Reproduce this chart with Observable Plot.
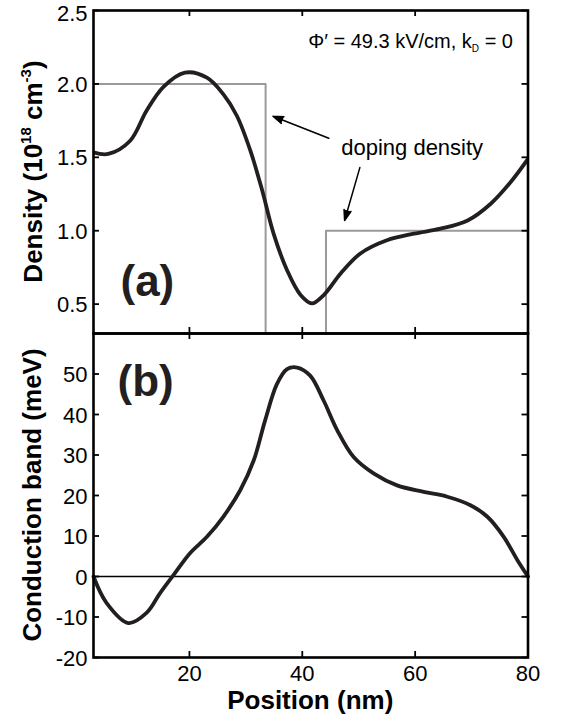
<!DOCTYPE html>
<html><head><meta charset="utf-8">
<script src="https://cdn.jsdelivr.net/npm/d3@7"></script>
<script src="https://cdn.jsdelivr.net/npm/@observablehq/plot@0.6"></script>
<style>
body{margin:0;background:#fff;}
#chart{position:relative;width:563px;height:717px;font-family:"Liberation Sans",Arial,Helvetica,sans-serif;}
#chart svg{position:absolute;left:0;overflow:visible;background:transparent;}
</style></head><body><div id="chart"></div>
<script>
// ---- data ----
const positionTicks = [20, 40, 60, 80];
const densityTicks = [0.5, 1.0, 1.5, 2.0, 2.5];
const bandTicks = [-20, -10, 0, 10, 20, 30, 40, 50];

const densityPos = [3.0, 5.6, 9.5, 12.4, 15.4, 19.2, 23.1, 26.0, 28.4, 30.8, 32.9, 34.9, 37.3, 39.7, 41.7, 43.8, 46.8, 50.3, 55.0, 59.8, 64.5, 69.3, 73.4, 76.9, 80.0];
const densityVal = [1.534, 1.523, 1.613, 1.817, 1.98, 2.077, 2.043, 1.93, 1.783, 1.545, 1.274, 0.982, 0.731, 0.562, 0.505, 0.562, 0.709, 0.845, 0.935, 0.98, 1.014, 1.07, 1.184, 1.33, 1.489];

const dopingPos = [3, 33.5, 33.5, 44.2, 44.2, 80];
const dopingVal = [2, 2, 0, 0, 1, 1];

const bandPos = [3.0, 5.3, 9.2, 12.4, 14.8, 17.2, 20.1, 23.1, 26.0, 29.0, 31.4, 33.4, 35.5, 37.3, 39.1, 41.4, 43.8, 46.2, 49.1, 52.7, 56.8, 61.5, 65.7, 69.8, 72.8, 75.7, 78.1, 80.0];
const bandVal = [0, -6.5, -11.5, -9.0, -4.1, 0.4, 5.75, 9.8, 14.75, 21.3, 28.7, 38.5, 47.5, 51.2, 51.6, 49.6, 43.4, 36.1, 29.5, 25.4, 22.5, 20.9, 19.7, 17.6, 14.75, 9.8, 4.1, 0];

const arrowX1 = [44.7, 50.2];
const arrowY1 = [1.63, 1.43];
const arrowX2 = [34.8, 47.5];
const arrowY2 = [1.78, 1.07];

const dopingLabel = ["doping density"];
const dopingLabelPos = [46.9];
const dopingLabelVal = [1.566];

// ---- tables ----
const density = densityPos.map((x, i) => ({x, y: densityVal[i]}));
const doping = dopingPos.map((x, i) => ({x, y: dopingVal[i]}));
const band = bandPos.map((x, i) => ({x, y: bandVal[i]}));
const arrows = arrowX1.map((x1, i) => ({x1, y1: arrowY1[i], x2: arrowX2[i], y2: arrowY2[i]}));
const dlabel = dopingLabel.map((t, i) => ({t, x: dopingLabelPos[i], y: dopingLabelVal[i]}));

const W = 563, ML = 93, MR = 35.5, FW = W - ML - MR;
const FONT = '"Liberation Sans", Arial, Helvetica, sans-serif';
const TL = 6; // inner tick length
const ink = "#231f20";

// ---- top panel ----
const H1 = 333, MT1 = 10, FH1 = H1 - MT1;
const topPlot = Plot.plot({
  width: W, height: H1, marginLeft: ML, marginRight: MR, marginTop: MT1, marginBottom: 0,
  style: {fontFamily: FONT, fontSize: "22px", color: "black", background: "transparent", overflow: "visible"},
  x: {domain: [3, 80], axis: null},
  y: {domain: [0.3, 2.5]},
  marks: [
    Plot.line(doping, {x: "x", y: "y", stroke: "#9a9a9a", strokeWidth: 2, clip: true}),
    Plot.line(density, {x: "x", y: "y", stroke: ink, strokeWidth: 3.8, curve: "catmull-rom", clip: true}),
    Plot.arrow(arrows, {x1: "x1", y1: "y1", x2: "x2", y2: "y2", stroke: "black", fill: "black", strokeWidth: 1.5, headLength: 11, headAngle: 38}),
    Plot.text(dlabel, {x: "x", y: "y", text: "t", textAnchor: "start", lineAnchor: "middle", fontSize: 22, fill: "black"}),
    Plot.text(["(a)"], {frameAnchor: "bottom-left", text: d => d, textAnchor: "start", lineAnchor: "middle", dx: 27, dy: -52, fontSize: 44, fontWeight: "bold", fill: ink}),
    Plot.tickY(densityTicks, {y: d => d, insetRight: FW - TL, stroke: "black", strokeWidth: 1.8}),
    Plot.tickY(densityTicks, {y: d => d, insetLeft: FW - TL, stroke: "black", strokeWidth: 1.8}),
    Plot.tickX(positionTicks, {x: d => d, insetTop: FH1 - TL, stroke: "black", strokeWidth: 1.8}),
    Plot.tickX(positionTicks, {x: d => d, insetBottom: FH1 - TL, stroke: "black", strokeWidth: 1.8}),
    Plot.axisY({ticks: densityTicks.slice(0, -1), tickSize: 0, tickPadding: 6, tickFormat: d3.format(".1f"), fontSize: 22, dy: 1, label: null}),
    Plot.axisY({ticks: densityTicks.slice(-1), tickSize: 0, tickPadding: 6, tickFormat: d3.format(".1f"), fontSize: 22, dy: 3, label: null}),
    Plot.frame({stroke: "black", strokeWidth: 2.6})
  ]
});
topPlot.style.top = "0px";

// ---- bottom panel ----
const H2 = 384, MB2 = 60, FH2 = H2 - MB2;
const bottomPlot = Plot.plot({
  width: W, height: H2, marginLeft: ML, marginRight: MR, marginTop: 0, marginBottom: MB2,
  style: {fontFamily: FONT, fontSize: "22px", color: "black", background: "transparent", overflow: "visible"},
  x: {domain: [3, 80]},
  y: {domain: [-20, 60]},
  marks: [
    Plot.ruleY([0], {stroke: "black", strokeWidth: 1.6}),
    Plot.line(band, {x: "x", y: "y", stroke: ink, strokeWidth: 3.8, curve: "catmull-rom"}),
    Plot.text(["(b)"], {frameAnchor: "top-left", text: d => d, textAnchor: "start", lineAnchor: "middle", dx: 24, dy: 48, fontSize: 44, fontWeight: "bold", fill: ink}),
    Plot.tickY(bandTicks, {y: d => d, insetRight: FW - TL, stroke: "black", strokeWidth: 1.8}),
    Plot.tickY(bandTicks, {y: d => d, insetLeft: FW - TL, stroke: "black", strokeWidth: 1.8}),
    Plot.tickX(positionTicks, {x: d => d, insetTop: FH2 - TL, stroke: "black", strokeWidth: 1.8}),
    Plot.tickX(positionTicks, {x: d => d, insetBottom: FH2 - TL, stroke: "black", strokeWidth: 1.8}),
    Plot.axisY({ticks: bandTicks, tickSize: 0, tickPadding: 6, tickFormat: d => String(d), fontSize: 22, dy: 1, label: null}),
    Plot.axisX({ticks: positionTicks, tickSize: 0, tickPadding: 8, fontSize: 22, label: null}),
    Plot.frame({stroke: "black", strokeWidth: 2.6})
  ]
});
bottomPlot.style.top = H1 + "px";

const chart = document.getElementById("chart");
chart.appendChild(topPlot);
chart.appendChild(bottomPlot);

// ---- rich text labels ----
const st = d3.select(topPlot);
const yl1 = st.append("text")
  .attr("transform", "translate(41.5,171.5) rotate(-90)")
  .attr("text-anchor", "middle").attr("font-size", 26).attr("font-weight", "bold")
  .attr("font-family", FONT).attr("fill", "black");
yl1.append("tspan").text("Density (10");
yl1.append("tspan").attr("font-size", 15).attr("dy", -11).text("18");
yl1.append("tspan").attr("dy", 11).text(" cm");
yl1.append("tspan").attr("font-size", 15).attr("dy", -11).text("-3");
yl1.append("tspan").attr("dy", 11).text(")");

const phi = st.append("text")
  .attr("x", 513).attr("y", 47.5).attr("text-anchor", "end")
  .attr("font-size", 20).attr("font-family", FONT).attr("fill", "black");
phi.append("tspan").text("Φ′ = 49.3 kV/cm, k");
phi.append("tspan").attr("font-size", 10).attr("dy", 4).text("D");
phi.append("tspan").attr("dy", -4).text(" = 0");

const sb = d3.select(bottomPlot);
sb.append("text")
  .attr("transform", "translate(41,162) rotate(-90)")
  .attr("text-anchor", "middle").attr("font-size", 26).attr("font-weight", "bold")
  .attr("font-family", FONT).attr("fill", "black")
  .text("Conduction band (meV)");
sb.append("text")
  .attr("x", ML + FW / 2).attr("y", 375.5)
  .attr("text-anchor", "middle").attr("font-size", 26).attr("font-weight", "bold")
  .attr("font-family", FONT).attr("fill", "black")
  .text("Position (nm)");
</script>
</body></html>
